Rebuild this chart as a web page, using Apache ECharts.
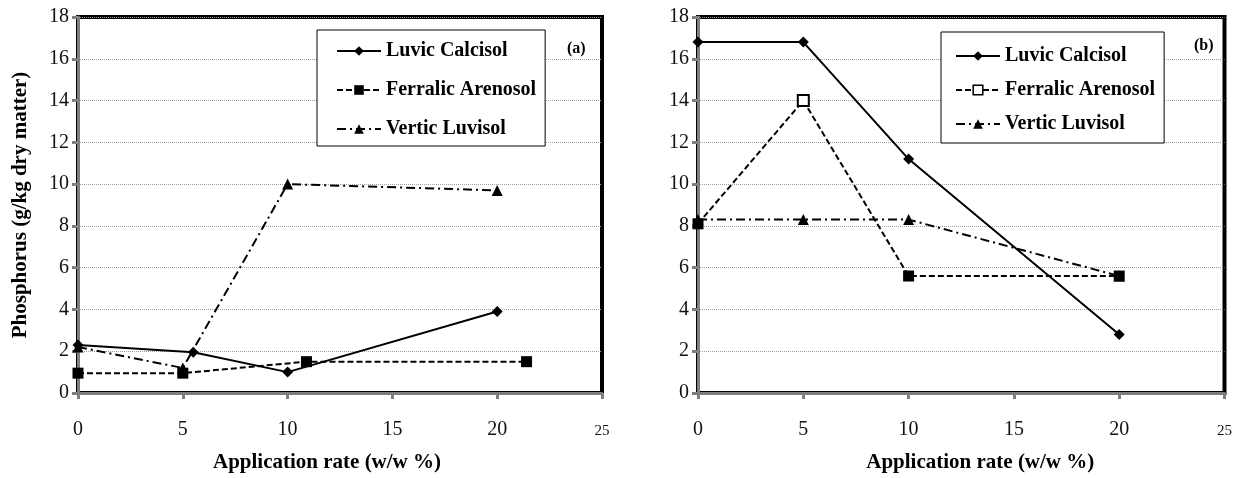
<!DOCTYPE html>
<html>
<head>
<meta charset="utf-8">
<script src="https://cdn.jsdelivr.net/npm/echarts@6/dist/echarts.min.js"></script>
<style>
html,body{margin:0;padding:0;background:#fff;}
#chart{width:1235px;height:478px;}
</style>
</head>
<body>
<div id="chart"></div>
<script>
// ---- data ----
const seriesNames = ['Luvic Calcisol', 'Ferralic Arenosol', 'Vertic Luvisol'];
const yTicks = [0, 2, 4, 6, 8, 10, 12, 14, 16, 18];
const xTicks = [0, 5, 10, 15, 20, 25];

// Panel (a): application rates as placed in the picture, and phosphorus values
const aLuvicX = [0, 5.5, 10, 20];
const aLuvicY = [2.3, 1.95, 1.0, 3.9];
const aFerralicX = [0, 5, 10.9, 21.4];
const aFerralicY = [0.95, 0.95, 1.5, 1.5];
const aVerticX = [0, 5, 10, 20];
const aVerticY = [2.2, 1.2, 10.0, 9.7];

// Panel (b)
const bRates = [0, 5, 10, 20];
const bLuvic = [16.8, 16.8, 11.2, 2.8];
const bFerralic = [8.1, 14.0, 5.6, 5.6];
const bVertic = [8.3, 8.3, 8.3, 5.6];

const pair = (xs, ys) => xs.map((x, i) => [x, ys[i]]);

const SERIF = '"Liberation Serif", "Times New Roman", serif';
const GRAY = '#7f7f7f';

function makeX(idx, namePad) {
  return {
    type: 'value', gridIndex: idx, min: xTicks[0], max: xTicks[xTicks.length - 1], interval: 5,
    name: 'Application rate (w/w %)', nameLocation: 'middle', nameGap: 59,
    nameTextStyle: {fontFamily: SERIF, fontWeight: 'bold', fontSize: 21, color: '#000', padding: namePad},
    axisLine: {lineStyle: {color: GRAY, width: 3}},
    axisTick: {show: true, length: 6, lineStyle: {color: GRAY, width: 3}},
    axisLabel: {
      margin: 27, fontFamily: SERIF, fontSize: 20, color: '#111',
      formatter: v => v === 25 ? '{s|25}' : String(v),
      rich: {s: {fontFamily: SERIF, fontSize: 15, color: '#111', padding: [4, 0, 0, 0]}}
    },
    splitLine: {show: false}
  };
}
function makeY(idx, withName) {
  return {
    type: 'value', gridIndex: idx, min: yTicks[0], max: yTicks[yTicks.length - 1], interval: 2,
    name: withName ? 'Phosphorus (g/kg dry matter)' : '',
    nameLocation: 'middle', nameGap: 47, nameRotate: 90,
    nameTextStyle: {fontFamily: SERIF, fontWeight: 'bold', fontSize: 21, color: '#000'},
    axisLine: {show: true, lineStyle: {color: GRAY, width: 3}},
    axisTick: {show: true, length: 6, lineStyle: {color: GRAY, width: 3}},
    axisLabel: {margin: 9, fontFamily: SERIF, fontSize: 20, color: '#111'},
    splitLine: {show: true, lineStyle: {color: '#a0a0a0', type: 'dotted', width: 1}}
  };
}

const styles = [
  {symbol: 'diamond', symbolSize: 11, lineType: 'solid'},
  {symbol: 'rect', symbolSize: 11, lineType: [6, 3]},
  {symbol: 'triangle', symbolSize: 11, lineType: [9, 4, 2, 4]}
];

function mkSeries(name, k, idx, data, hollowIdx) {
  return {
    type: 'line', name: name, xAxisIndex: idx, yAxisIndex: idx,
    data: data.map((d, i) => (hollowIdx === i)
      ? {value: d, itemStyle: {color: '#fff', borderColor: '#000', borderWidth: 2}}
      : d),
    symbol: styles[k].symbol, symbolSize: styles[k].symbolSize,
    showAllSymbol: true, animation: false,
    lineStyle: {color: '#000', width: 2, type: styles[k].lineType},
    itemStyle: {color: '#000', borderColor: '#000', borderWidth: 0},
    z: 3 - k
  };
}

const SUF = ' (b)';
const legendCommon = {
  orient: 'vertical', itemWidth: 44, itemHeight: 12, itemGap: 17,
  borderColor: '#000', borderWidth: 1, backgroundColor: '#fff',
  textStyle: {fontFamily: SERIF, fontWeight: 'bold', fontSize: 20, color: '#000', lineHeight: 22},
  formatter: n => n.replace(SUF, ''),
  selectedMode: false
};

const option = {
  backgroundColor: '#fff',
  animation: false,
  grid: [
    {left: 78, right: 633, top: 17, bottom: 80, show: true, borderColor: '#000', borderWidth: 4},
    {left: 698, right: 8, top: 17, bottom: 81, show: true, borderColor: '#000', borderWidth: 4}
  ],
  title: [
    {text: '(a)', left: 562, top: 36, textStyle: {fontFamily: SERIF, fontWeight: 'bold', fontSize: 16, color: '#000'}},
    {text: '(b)', left: 1189, top: 33, textStyle: {fontFamily: SERIF, fontWeight: 'bold', fontSize: 16, color: '#000'}}
  ],
  legend: [
    Object.assign({}, legendCommon, {left: 317, top: 30, padding: [10, 9, 6, 19], data: seriesNames}),
    Object.assign({}, legendCommon, {left: 941, top: 32, padding: [13, 9, 8, 14], itemGap: 12,
      data: seriesNames.map((n, i) => i === 1
        ? {name: n + SUF, itemStyle: {color: '#fff', borderColor: '#000', borderWidth: 1.5}}
        : {name: n + SUF})})
  ],
  xAxis: [makeX(0, [0, 26, 0, 0]), makeX(1, [0, 0, 0, 38])],
  yAxis: [makeY(0, true), makeY(1, false)],
  series: [
    mkSeries(seriesNames[0], 0, 0, pair(aLuvicX, aLuvicY)),
    mkSeries(seriesNames[1], 1, 0, pair(aFerralicX, aFerralicY)),
    mkSeries(seriesNames[2], 2, 0, pair(aVerticX, aVerticY)),
    mkSeries(seriesNames[0] + SUF, 0, 1, pair(bRates, bLuvic)),
    mkSeries(seriesNames[1] + SUF, 1, 1, pair(bRates, bFerralic), 1),
    mkSeries(seriesNames[2] + SUF, 2, 1, pair(bRates, bVertic))
  ]
};

const chart = echarts.init(document.getElementById('chart'), null, {renderer: 'canvas'});
chart.setOption(option);
</script>
</body>
</html>
